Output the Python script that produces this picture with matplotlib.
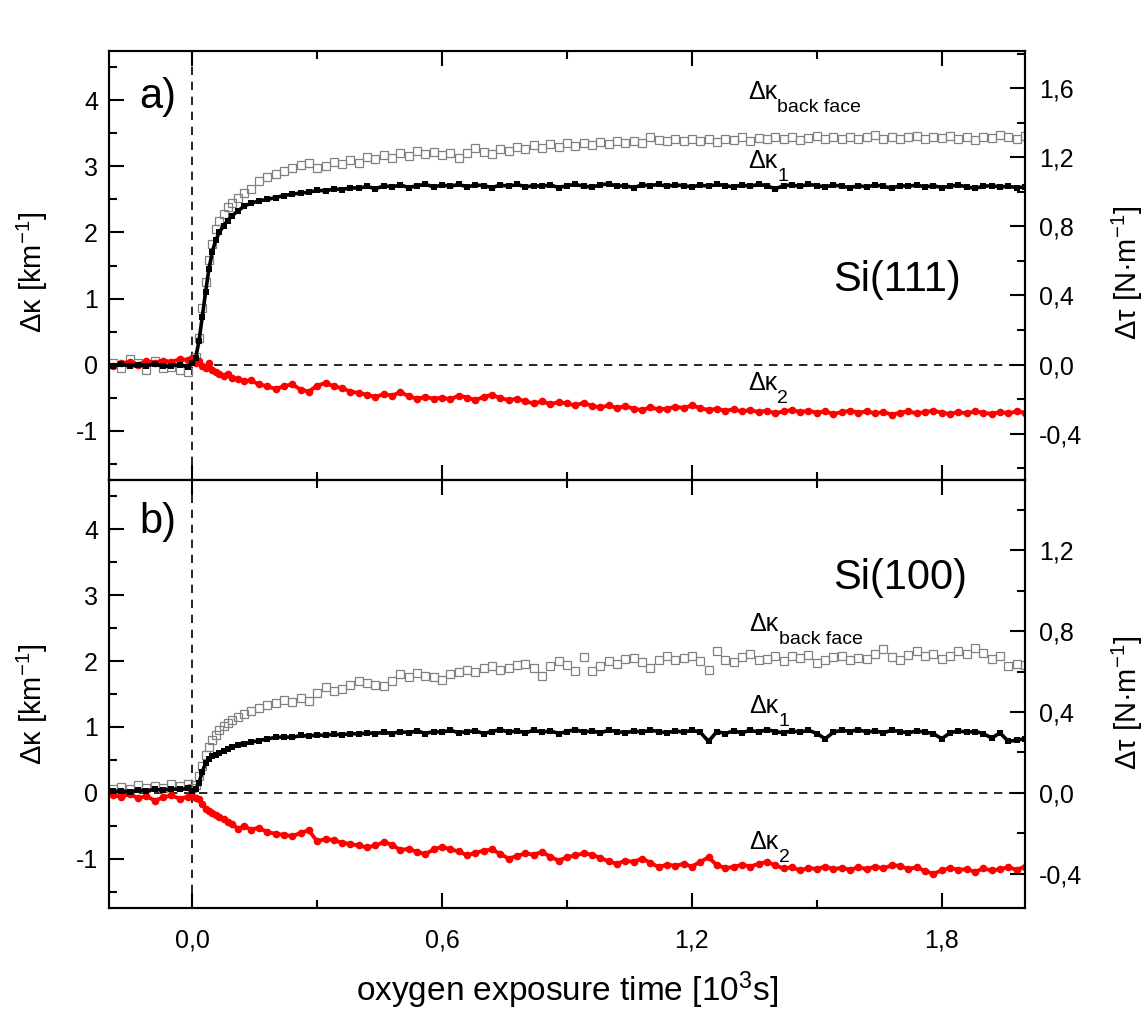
import matplotlib
matplotlib.use('Agg')
import matplotlib.pyplot as plt
import numpy as np
from matplotlib.ticker import MultipleLocator, FuncFormatter

plt.rcParams['font.family'] = ['Liberation Sans', 'DejaVu Sans']
plt.rcParams['mathtext.fontset'] = 'custom'
plt.rcParams['mathtext.rm'] = 'Liberation Sans'
plt.rcParams['mathtext.it'] = 'Liberation Sans'
plt.rcParams['axes.unicode_minus'] = False

# sample times [10^3 s]
t_pre = [-0.19, -0.17, -0.15, -0.13, -0.11, -0.09, -0.07, -0.05, -0.03, -0.01]
t_rise = [0.0, 0.008, 0.016, 0.024, 0.032, 0.04, 0.048, 0.056, 0.065, 0.075,
          0.085, 0.095, 0.11, 0.125, 0.14, 0.16, 0.18, 0.2]
t_rest = np.round(np.arange(0.22, 2.001, 0.02), 2)
time = np.concatenate([t_pre, t_rise, t_rest])

# ---- panel a) Si(111) ----
a_k1 = [-0.02, 0.01, -0.03, 0.0, -0.02, 0.01, -0.03, -0.02, 0.0, -0.04,
        0.02, 0.10, 0.35, 0.72, 1.10, 1.45, 1.70, 1.88, 2.00, 2.10,
        2.18, 2.25, 2.33, 2.40, 2.44, 2.48, 2.50, 2.53,
        2.56, 2.58, 2.60, 2.61, 2.64, 2.63, 2.66, 2.65, 2.68, 2.67,
        2.70, 2.66, 2.71, 2.69, 2.72, 2.68, 2.71, 2.73, 2.69, 2.72,
        2.70, 2.73, 2.69, 2.72, 2.71, 2.68, 2.72, 2.70, 2.73, 2.69,
        2.71, 2.70, 2.72, 2.68, 2.71, 2.73, 2.70, 2.69, 2.72, 2.74,
        2.70, 2.71, 2.68, 2.72, 2.71, 2.73, 2.70, 2.72, 2.71, 2.69,
        2.72, 2.70, 2.73, 2.71, 2.69, 2.72, 2.70, 2.73, 2.71, 2.66,
        2.71, 2.72, 2.70, 2.73, 2.71, 2.69, 2.72, 2.70, 2.68, 2.71,
        2.69, 2.72, 2.70, 2.67, 2.71, 2.70, 2.72, 2.69, 2.71, 2.68,
        2.70, 2.72, 2.69, 2.67, 2.70, 2.71, 2.69, 2.70, 2.68, 2.69]
a_back = [0.03, -0.05, 0.08, 0.02, -0.08, 0.05, -0.06, -0.04, -0.09, -0.12,
          0.05, 0.12, 0.40, 0.85, 1.25, 1.58, 1.82, 2.05, 2.18, 2.28,
          2.38, 2.45, 2.52, 2.60, 2.66, 2.78, 2.84, 2.88,
          2.93, 2.98, 3.02, 3.06, 2.97, 3.01, 3.07, 3.04, 3.10, 3.06,
          3.15, 3.12, 3.18, 3.13, 3.20, 3.16, 3.24, 3.19, 3.22, 3.18,
          3.21, 3.13, 3.20, 3.28, 3.22, 3.19, 3.27, 3.24, 3.30, 3.26,
          3.32, 3.28, 3.34, 3.30, 3.35, 3.31, 3.36, 3.33, 3.37, 3.34,
          3.38, 3.35, 3.39, 3.36, 3.44, 3.40, 3.38, 3.41, 3.39, 3.42,
          3.38, 3.41, 3.37, 3.42, 3.40, 3.44, 3.39, 3.43, 3.41, 3.45,
          3.41, 3.44, 3.40, 3.43, 3.46, 3.42, 3.44, 3.41, 3.45, 3.42,
          3.44, 3.47, 3.42, 3.45, 3.41, 3.44, 3.46, 3.42, 3.45, 3.43,
          3.46, 3.42, 3.44, 3.40, 3.45, 3.43, 3.47, 3.44, 3.42, 3.46]
a_k2 = [-0.03, 0.02, 0.04, 0.0, 0.05, 0.03, 0.06, 0.04, 0.08, 0.07,
        0.10, 0.03, 0.06, -0.02, -0.05, 0.02, -0.08, -0.12, -0.15, -0.18,
        -0.14, -0.20, -0.22, -0.25, -0.24, -0.30, -0.33, -0.37,
        -0.33, -0.30, -0.38, -0.41, -0.32, -0.28, -0.33, -0.36, -0.41, -0.43,
        -0.46, -0.49, -0.45, -0.47, -0.42, -0.48, -0.52, -0.49, -0.52, -0.50,
        -0.53, -0.47, -0.50, -0.54, -0.49, -0.46, -0.51, -0.54, -0.52, -0.56,
        -0.59, -0.56, -0.60, -0.57, -0.59, -0.62, -0.58, -0.63, -0.65, -0.62,
        -0.66, -0.63, -0.67, -0.69, -0.65, -0.68, -0.67, -0.64, -0.66, -0.62,
        -0.66, -0.69, -0.67, -0.70, -0.68, -0.71, -0.69, -0.72, -0.70, -0.74,
        -0.71, -0.69, -0.72, -0.70, -0.73, -0.71, -0.75, -0.72, -0.70, -0.73,
        -0.71, -0.74, -0.72, -0.76, -0.73, -0.71, -0.74, -0.72, -0.70, -0.73,
        -0.75, -0.72, -0.74, -0.71, -0.73, -0.75, -0.72, -0.74, -0.71, -0.73]

# ---- panel b) Si(100) ----
b_k1 = [0.02, 0.03, 0.01, 0.04, 0.03, 0.05, 0.04, 0.06, 0.05, 0.07,
        0.02, 0.05, 0.15, 0.32, 0.45, 0.52, 0.56, 0.58, 0.61, 0.64,
        0.66, 0.69, 0.72, 0.74, 0.77, 0.79, 0.82, 0.84,
        0.85, 0.84, 0.87, 0.86, 0.88, 0.87, 0.89, 0.88, 0.90, 0.89,
        0.91, 0.90, 0.92, 0.90, 0.93, 0.91, 0.94, 0.90, 0.93, 0.92,
        0.95, 0.91, 0.93, 0.94, 0.90, 0.93, 0.96, 0.92, 0.94, 0.91,
        0.95, 0.92, 0.94, 0.90, 0.93, 0.96, 0.92, 0.94, 0.91, 0.95,
        0.93, 0.91, 0.94, 0.92, 0.95, 0.93, 0.91, 0.94, 0.92, 0.95,
        0.92, 0.78, 0.93, 0.90, 0.94, 0.91, 0.95, 0.92, 0.96, 0.93,
        0.91, 0.94, 0.92, 0.95, 0.90, 0.82, 0.92, 0.95, 0.93, 0.96,
        0.92, 0.94, 0.91, 0.95, 0.93, 0.91, 0.94, 0.92, 0.90, 0.82,
        0.91, 0.94, 0.92, 0.93, 0.90, 0.83, 0.91, 0.78, 0.80, 0.82]
b_back = [0.06, 0.09, 0.05, 0.12, 0.08, 0.11, 0.07, 0.13, 0.10, 0.14,
          0.08, 0.12, 0.25, 0.40, 0.58, 0.70, 0.80, 0.88, 0.96, 1.01,
          1.06, 1.10, 1.15, 1.20, 1.24, 1.28, 1.33, 1.36,
          1.41, 1.38, 1.44, 1.40, 1.52, 1.60, 1.55, 1.58, 1.64, 1.69,
          1.66, 1.63, 1.62, 1.70, 1.80, 1.76, 1.82, 1.78, 1.76, 1.72,
          1.80, 1.84, 1.87, 1.83, 1.89, 1.92, 1.86, 1.90, 1.94, 1.95,
          1.90, 1.77, 1.93, 2.00, 1.94, 1.85, 2.06, 1.85, 1.93, 2.00,
          1.96, 2.03, 2.05, 1.99, 1.90, 2.02, 2.08, 2.01, 2.05, 2.08,
          2.00, 1.87, 2.15, 2.02, 1.98, 2.06, 2.10, 2.02, 2.03, 2.07,
          2.00, 2.08, 2.04, 2.09, 1.97, 2.02, 2.06, 2.08, 2.01, 2.05,
          2.03, 2.10, 2.18, 2.06, 2.02, 2.09, 2.15, 2.07, 2.11, 2.03,
          2.08, 2.15, 2.10, 2.20, 2.12, 2.03, 2.08, 1.92, 1.96, 1.94]
b_k2 = [-0.04, -0.06, -0.02, -0.08, -0.05, -0.12, -0.07, -0.04, -0.09, -0.06,
        -0.05, -0.08, -0.10, -0.17, -0.24, -0.27, -0.30, -0.34, -0.37, -0.40,
        -0.44, -0.47, -0.55, -0.50, -0.56, -0.53, -0.60, -0.62,
        -0.64, -0.66, -0.61, -0.57, -0.74, -0.70, -0.72, -0.76, -0.78, -0.80,
        -0.83, -0.80, -0.75, -0.79, -0.87, -0.85, -0.90, -0.93, -0.86, -0.82,
        -0.86, -0.89, -0.95, -0.91, -0.88, -0.86, -0.93, -1.00, -0.96, -0.92,
        -0.94, -0.90, -0.97, -1.03, -0.98, -0.95, -0.92, -0.94, -0.99, -1.04,
        -1.08, -1.03, -1.05, -1.00, -1.06, -1.13, -1.09, -1.11, -1.08, -1.12,
        -1.05, -0.98, -1.10, -1.14, -1.13, -1.09, -1.12, -1.08, -1.05, -1.10,
        -1.15, -1.13, -1.18, -1.14, -1.16, -1.12, -1.16, -1.14, -1.17, -1.13,
        -1.16, -1.12, -1.15, -1.10, -1.11, -1.16, -1.13, -1.19, -1.23, -1.18,
        -1.14, -1.17, -1.16, -1.20, -1.15, -1.18, -1.16, -1.13, -1.17, -1.12]

# left/right scale (km^-1 -> N/m) per panel
kappa_lim = (-1.75, 4.75)
tau_scale_a = 0.3826
tau_scale_b = 0.326

W, H = 1147, 1014
fig = plt.figure(figsize=(W / 100, H / 100), dpi=100)
x0, x1 = 109 / W, 1025 / W
ax_a = fig.add_axes([x0, 1 - 480 / H, x1 - x0, 429 / H])
ax_b = fig.add_axes([x0, 1 - 908 / H, x1 - x0, 428 / H])

comma = FuncFormatter(lambda v, p: ('%.1f' % v).replace('.', ','))
intfmt = FuncFormatter(lambda v, p: '%d' % round(v))


def draw_panel(ax, k1, back, k2, tau_scale, tau_major):
    ax.axhline(0, ls=(0, (5, 4)), lw=1.2, color='black', zorder=1)
    ax.axvline(0, ls=(0, (5, 4)), lw=1.2, color='black', zorder=1)
    ax.plot(time, back, 's', ms=5.5, mfc='none', mec='#808080', mew=0.9, zorder=2)
    ax.plot(time, k2, '-o', color='#ff0000', lw=2.8, ms=5.5, mew=0, zorder=3)
    ax.plot(time, k1, '-s', color='black', lw=2.6, ms=4.8, mew=0, zorder=4)
    ax.set_xlim(-0.2, 2.0)
    ax.set_ylim(*kappa_lim)
    ax.xaxis.set_major_locator(MultipleLocator(0.6))
    ax.xaxis.set_minor_locator(MultipleLocator(0.3))
    ax.yaxis.set_major_locator(MultipleLocator(1))
    ax.yaxis.set_minor_locator(MultipleLocator(0.5))
    ax.yaxis.set_major_formatter(intfmt)
    ax.xaxis.set_major_formatter(comma)
    ax.tick_params(which='both', direction='in', top=True, right=False, width=1.5)
    ax.tick_params(which='major', length=11)
    ax.tick_params(which='minor', length=6)
    ax.tick_params(axis='y', labelsize=18, pad=8)
    ax.tick_params(axis='x', labelsize=18, pad=15)
    for s in ax.spines.values():
        s.set_linewidth(1.5)
    ax.set_ylabel('Δκ [km$^{-1}$]', fontsize=21)

    tw = ax.twinx()
    tw.set_ylim(kappa_lim[0] * tau_scale, kappa_lim[1] * tau_scale)
    tw.yaxis.set_major_locator(MultipleLocator(tau_major))
    tw.yaxis.set_minor_locator(MultipleLocator(tau_major / 2))
    tw.yaxis.set_major_formatter(comma)
    tw.tick_params(which='both', direction='in', width=1.5, labelsize=18, pad=10)
    tw.tick_params(which='major', length=11)
    tw.tick_params(which='minor', length=6)
    for s in tw.spines.values():
        s.set_linewidth(1.5)
    tw.set_ylabel('Δτ [N·m$^{-1}$]', fontsize=21)
    return tw


def kappa_label(ax, x, y, sub):
    ax.text(x, y, 'Δκ', fontsize=18, va='baseline')
    ax.annotate(sub, xy=(x, y), xytext=(21, -9.5), textcoords='offset points',
                fontsize=14, va='baseline')


tw_a = draw_panel(ax_a, a_k1, a_back, a_k2, tau_scale_a, 0.4)
tw_b = draw_panel(ax_b, b_k1, b_back, b_k2, tau_scale_b, 0.4)
ax_a.tick_params(axis='x', labelbottom=False)

ax_a.yaxis.set_label_coords(-0.064, 0.483)
ax_b.yaxis.set_label_coords(-0.064, 0.475)
tw_a.yaxis.set_label_coords(1.093, 0.483)
tw_b.yaxis.set_label_coords(1.093, 0.48)

ax_a.text(-0.127, 3.88, 'a)', fontsize=30, va='baseline')
ax_b.text(-0.127, 3.94, 'b)', fontsize=30, va='baseline')
ax_a.text(1.54, 1.12, 'Si(111)', fontsize=30, va='baseline')
ax_b.text(1.54, 3.10, 'Si(100)', fontsize=30, va='baseline')

kappa_label(ax_a, 1.335, 4.02, 'back face')
kappa_label(ax_a, 1.335, 2.98, '1')
kappa_label(ax_a, 1.335, -0.39, '2')
kappa_label(ax_b, 1.338, 2.46, 'back face')
kappa_label(ax_b, 1.338, 1.21, '1')
kappa_label(ax_b, 1.338, -0.85, '2')

ax_b.set_xlabel('oxygen exposure time [10$^3$s]', fontsize=24, labelpad=12)

fig.savefig('out.png', dpi=100)
